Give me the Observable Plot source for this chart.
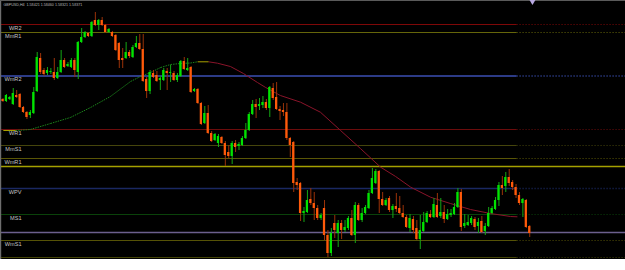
<!DOCTYPE html>
<html><head><meta charset="utf-8">
<script src="https://cdn.jsdelivr.net/npm/d3@7"></script>
<script src="https://cdn.jsdelivr.net/npm/@observablehq/plot@0.6"></script>
<style>html,body{margin:0;padding:0;background:#fff;} #chart svg{display:block;}</style>
</head><body><div id="chart"></div>
<script>
// ---- data ----
const title = "GBPUSD,H4  1.58421 1.58460 1.58321 1.58371";

const opens = [
1.5901,1.5899,1.5901,1.5896,1.5905,1.5906,1.5893,1.5888,1.5885,1.5887,
1.5909,1.5942,1.5930,1.5927,1.5928,1.5928,1.5922,1.5928,1.5940,1.5934,
1.5933,1.5940,1.5928,1.5958,1.5963,1.5967,1.5964,1.5980,1.5975,1.5980,
1.5975,1.5968,1.5968,1.5965,1.5957,1.5942,1.5942,1.5948,1.5943,1.5953,
1.5957,1.5951,1.5921,1.5909,1.5927,1.5925,1.5920,1.5920,1.5929,1.5927,
1.5927,1.5920,1.5924,1.5939,1.5930,1.5933,1.5909,1.5911,1.5897,1.5877,
1.5887,1.5867,1.5860,1.5857,1.5863,1.5857,1.5848,1.5844,1.5857,1.5854,
1.5855,1.5862,1.5870,1.5886,1.5896,1.5894,1.5895,1.5898,1.5892,1.5912,
1.5903,1.5891,1.5890,1.5888,1.5862,1.5858,1.5818,1.5817,1.5787,1.5788,
1.5801,1.5797,1.5792,1.5782,1.5792,1.5765,1.5747,1.5777,1.5767,1.5777,
1.5770,1.5772,1.5782,1.5765,1.5795,1.5780,1.5787,1.5792,1.5807,1.5817,
1.5829,1.5801,1.5795,1.5802,1.5790,1.5794,1.5792,1.5787,1.5783,1.5772,
1.5781,1.5772,1.5761,1.5769,1.5778,1.5786,1.5783,1.5795,1.5784,1.5788,
1.5781,1.5785,1.5786,1.5793,1.5808,1.5774,1.5775,1.5777,1.5781,1.5774,
1.5779,1.5769,1.5774,1.5787,1.5791,1.5800,1.5815,1.5814,1.5823,1.5818,
1.5813,1.5805,1.5797,1.5800,1.5774];

const highs = [
1.5902,1.5906,1.5904,1.5912,1.5910,1.5907,1.5894,1.5889,1.5890,1.5913,
1.5948,1.5947,1.5932,1.5933,1.5932,1.5942,1.5933,1.5950,1.5942,1.5938,
1.5942,1.5942,1.5959,1.5972,1.5969,1.5968,1.5979,1.5988,1.5981,1.5983,
1.5976,1.5972,1.5969,1.5966,1.5958,1.5952,1.5958,1.5950,1.5955,1.5964,
1.5966,1.5966,1.5923,1.5930,1.5930,1.5929,1.5924,1.5932,1.5932,1.5935,
1.5929,1.5927,1.5940,1.5943,1.5942,1.5934,1.5912,1.5912,1.5898,1.5894,
1.5895,1.5869,1.5867,1.5866,1.5864,1.5859,1.5855,1.5859,1.5860,1.5858,
1.5864,1.5877,1.5888,1.5900,1.5901,1.5902,1.5904,1.5901,1.5914,1.5917,
1.5918,1.5894,1.5897,1.5897,1.5863,1.5859,1.5822,1.5818,1.5793,1.5810,
1.5812,1.5808,1.5795,1.5787,1.5800,1.5770,1.5772,1.5785,1.5780,1.5780,
1.5780,1.5784,1.5790,1.5798,1.5797,1.5792,1.5795,1.5810,1.5832,1.5831,
1.5830,1.5808,1.5802,1.5804,1.5796,1.5807,1.5804,1.5795,1.5785,1.5786,
1.5784,1.5780,1.5785,1.5788,1.5789,1.5790,1.5802,1.5807,1.5802,1.5795,
1.5791,1.5791,1.5797,1.5812,1.5811,1.5786,1.5785,1.5784,1.5783,1.5782,
1.5784,1.5777,1.5793,1.5794,1.5803,1.5818,1.5824,1.5828,1.5831,1.5820,
1.5816,1.5808,1.5802,1.5801,1.5775];

const lows = [
1.5898,1.5898,1.5900,1.5895,1.5902,1.5892,1.5887,1.5881,1.5882,1.5886,
1.5908,1.5926,1.5924,1.5925,1.5926,1.5920,1.5921,1.5927,1.5932,1.5933,
1.5932,1.5923,1.5921,1.5957,1.5962,1.5963,1.5963,1.5974,1.5970,1.5974,
1.5967,1.5967,1.5963,1.5949,1.5932,1.5932,1.5941,1.5942,1.5942,1.5952,
1.5950,1.5918,1.5902,1.5906,1.5922,1.5918,1.5910,1.5919,1.5910,1.5918,
1.5919,1.5918,1.5923,1.5930,1.5929,1.5907,1.5908,1.5896,1.5875,1.5876,
1.5866,1.5858,1.5859,1.5853,1.5856,1.5834,1.5842,1.5836,1.5848,1.5850,
1.5854,1.5861,1.5869,1.5885,1.5882,1.5890,1.5892,1.5890,1.5883,1.5900,
1.5890,1.5880,1.5884,1.5860,1.5843,1.5808,1.5810,1.5779,1.5778,1.5787,
1.5795,1.5780,1.5780,1.5780,1.5760,1.5743,1.5744,1.5762,1.5753,1.5761,
1.5768,1.5770,1.5764,1.5757,1.5779,1.5778,1.5786,1.5791,1.5806,1.5816,
1.5787,1.5794,1.5794,1.5788,1.5782,1.5788,1.5786,1.5782,1.5772,1.5768,
1.5767,1.5760,1.5751,1.5768,1.5777,1.5782,1.5782,1.5782,1.5782,1.5777,
1.5780,1.5783,1.5785,1.5792,1.5769,1.5772,1.5774,1.5775,1.5770,1.5767,
1.5767,1.5765,1.5773,1.5786,1.5790,1.5794,1.5805,1.5808,1.5814,1.5810,
1.5802,1.5795,1.5783,1.5772,1.5763];

const closes = [
1.5899,1.5905,1.5903,1.5907,1.5903,1.5893,1.5888,1.5883,1.5888,1.5908,
1.5943,1.5928,1.5926,1.5930,1.5929,1.5922,1.5928,1.5940,1.5933,1.5936,
1.5940,1.5930,1.5958,1.5963,1.5968,1.5964,1.5978,1.5975,1.5980,1.5975,
1.5968,1.5971,1.5964,1.5950,1.5940,1.5940,1.5948,1.5944,1.5953,1.5957,
1.5951,1.5919,1.5909,1.5928,1.5923,1.5919,1.5922,1.5930,1.5927,1.5928,
1.5920,1.5925,1.5939,1.5931,1.5932,1.5908,1.5911,1.5897,1.5876,1.5887,
1.5867,1.5859,1.5866,1.5864,1.5857,1.5845,1.5844,1.5857,1.5853,1.5856,
1.5862,1.5870,1.5886,1.5896,1.5893,1.5896,1.5898,1.5892,1.5913,1.5902,
1.5891,1.5889,1.5888,1.5862,1.5855,1.5817,1.5815,1.5787,1.5789,1.5800,
1.5797,1.5792,1.5782,1.5785,1.5765,1.5747,1.5767,1.5770,1.5777,1.5770,
1.5773,1.5782,1.5765,1.5795,1.5780,1.5787,1.5793,1.5807,1.5822,1.5829,
1.5801,1.5795,1.5800,1.5790,1.5794,1.5791,1.5787,1.5783,1.5773,1.5782,
1.5770,1.5761,1.5770,1.5778,1.5787,1.5783,1.5796,1.5783,1.5788,1.5781,
1.5786,1.5787,1.5793,1.5808,1.5773,1.5777,1.5778,1.5782,1.5773,1.5778,
1.5768,1.5774,1.5787,1.5792,1.5800,1.5815,1.5812,1.5823,1.5817,1.5813,
1.5805,1.5797,1.5801,1.5773,1.5767];

// pivot levels (name, price)
const levelNames  = ["WR2","MmR1","WmR2","WR1","MmS1","WmR1","","WPV","MS1","","WmS1","MmS2"];
const levelValues = [1.5976,1.5968,1.59245,1.5871,1.5855,1.5842,1.5834,1.5812,1.5786,1.5768,1.5760,1.5743];

// moving average: position (bar number) and value
const maBar   = [0.1,3.7,8.0,13.9,19.7,25.6,31.4,37.3,40.2,43.1,46.1,49.0,51.9,54.8,56.9,60.1,62.7,66.5,70.3,74.4,76.8,81.1,87.0,92.8,98.7,104.5,110.4,114.8,119.2,125.0,130.8,136.7,142.5,148.4,150.4];
const maValue = [1.5870,1.5870,1.5871,1.5877,1.5883,1.5893,1.5904,1.5919,1.5924,1.5928,1.5933,1.5936,1.5937,1.59375,1.59387,1.59387,1.59373,1.5934,1.5927,1.5918,1.5913,1.5905,1.58983,1.58883,1.5870,1.5852,1.58333,1.5824,1.58133,1.58033,1.5797,1.5791,1.5787,1.5784,1.57837];

// ---- layout & styles ----
const xMin = -0.73, xMax = 182.0, solidEnd = 150.3;
const yBottom = 1.5741, yTop = 1.6000;
const levelStyle = [
  {stroke:"#7e0808", w:1},
  {stroke:"#66660a", w:1},
  {stroke:"#2c3b86", w:1.8},
  {stroke:"#6c0c0c", w:1},
  {stroke:"#45450c", w:1},
  {stroke:"#5a5606", w:1},
  {stroke:"#a4a000", w:1.4, full:true},
  {stroke:"#1a2862", w:1.5},
  {stroke:"#0a420a", w:1},
  {stroke:"#6c5f8e", w:1.4, full:true},
  {stroke:"#555206", w:1},
  {stroke:"#444406", w:1}
];

const candles = opens.map((o, i) => ({i, o, h: highs[i], l: lows[i], c: closes[i], up: closes[i] >= o}));
const levels = levelValues.map((v, i) => ({name: levelNames[i], value: v, ...levelStyle[i]}));
const maSegs = maBar.slice(1).map((b, k) => ({
  x1: maBar[k], y1: maValue[k], x2: b, y2: maValue[k + 1],
  up: maValue[k + 1] > maValue[k], flat: maValue[k + 1] === maValue[k]
}));

const chart = Plot.plot({
  width: 625, height: 259, margin: 0,
  x: {domain: [xMin, xMax], axis: null},
  y: {domain: [yBottom, yTop], axis: null},
  style: {background: "#000", fontFamily: "'Liberation Sans', Arial, sans-serif"},
  marks: [
    // solid parts of levels
    ...levelStyle.map((s, i) => Plot.ruleY([levels[i]], {
      y: "value", x1: () => xMin, x2: () => (s.full ? xMax : solidEnd),
      stroke: s.stroke, strokeWidth: s.w
    })),
    // dotted extensions
    ...levelStyle.map((s, i) => s.full ? null : Plot.ruleY([levels[i]], {
      y: "value", x1: () => solidEnd, x2: () => xMax,
      stroke: s.stroke, strokeWidth: s.w, strokeDasharray: "1,2"
    })).filter(Boolean),
    // moving average (rising part dotted green, falling part dark red)
    Plot.link(maSegs.filter(d => d.up), {x1: "x1", y1: "y1", x2: "x2", y2: "y2",
      stroke: "#1b861b", strokeWidth: 1, strokeDasharray: "1.5,1"}),
    Plot.link(maSegs.filter(d => !d.up && !d.flat), {x1: "x1", y1: "y1", x2: "x2", y2: "y2",
      stroke: "#8a142a", strokeWidth: 1}),
    Plot.link(maSegs.filter(d => d.flat), {x1: "x1", y1: "y1", x2: "x2", y2: "y2",
      stroke: "#a8a000", strokeWidth: 1}),
    // wicks
    Plot.ruleX(candles, {x: "i", y1: "l", y2: "h", stroke: d => d.up ? "#14a814" : "#9a3208", strokeWidth: 1}),
    // bodies
    Plot.rect(candles, {x1: d => d.i - 0.33, x2: d => d.i + 0.33, y1: "o", y2: "c",
      fill: d => d.up ? "#00e400" : "#ff5a0a"}),
    // level labels
    Plot.text(levels.filter(d => d.name), {
      y: "value", text: "name", frameAnchor: "left", dx: 21, dy: 3.5,
      textAnchor: "end", lineAnchor: "middle", fill: "#c4c4c4", fontSize: 5.6
    }),
    // frame edges
    Plot.ruleX([xMin], {stroke: "#6e6e6e", strokeWidth: 1.4}),
    Plot.ruleY([yTop], {stroke: "#5a5a5a", strokeWidth: 1}),
    // chart-shift marker after last bar
    Plot.dot([candles.length - 1 + 0.8], {x: d => d, y: () => yTop - 0.00012, symbol: "triangle", rotate: 180,
      r: 2.2, fill: "#b8a8e0", stroke: "none"}),
    // title
    Plot.text([title], {frameAnchor: "top-left", dx: 3, dy: 4, textAnchor: "start", lineAnchor: "middle",
      fill: "#bdbdbd", fontSize: 3.65})
  ]
});
document.getElementById("chart").appendChild(chart);
</script>
</body></html>
